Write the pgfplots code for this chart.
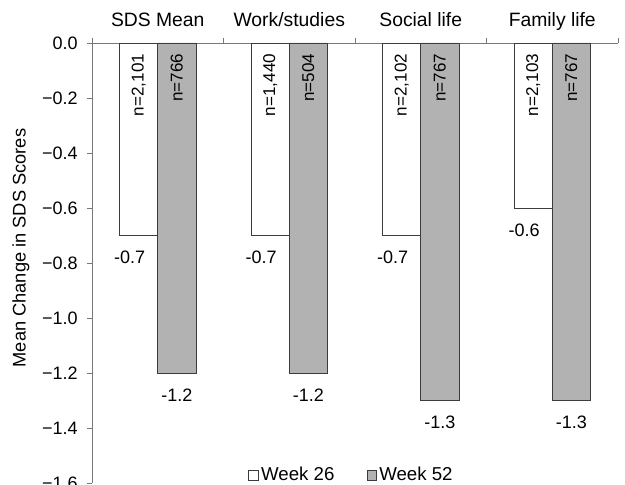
\documentclass[border=0pt]{standalone}
\usepackage{pgfplots}
\pgfplotsset{compat=1.18}
\usepackage{fontspec}
\setmainfont{Liberation Sans}
\definecolor{barGray}{RGB}{178,178,178}
\definecolor{edge}{RGB}{60,60,60}
\definecolor{axisGray}{RGB}{120,120,120}

\begin{document}
\fontsize{13.5}{16}\selectfont
\begin{tikzpicture}
\begin{axis}[
	scale only axis,
	width=394.5pt,
	height=330pt,
	ybar,
	bar width=0.29,
	xmin=-0.5, xmax=3.5,
	ymin=-1.6, ymax=0,
	axis x line=top,
	axis y line=left,
	axis line style={axisGray,-},
	every tick/.style={axisGray},
	tick align=outside,
	xtick={0,1,2,3},
	xticklabels={SDS Mean, Work/studies, Social life, Family life},
	xticklabel style={font=\fontsize{14.5}{17}\selectfont, anchor=base, yshift=8pt},
	major x tick style={draw=none},
	minor xtick={-0.5,0.5,1.5,2.5,3.5},
	major tick length=4pt,
	minor tick length=4pt,
	ytick={-1.6,-1.4,-1.2,-1.0,-0.8,-0.6,-0.4,-0.2,0},
	yticklabels={−1.6,−1.4,−1.2,−1.0,−0.8,−0.6,−0.4,−0.2,0.0},
	yticklabel style={font=\fontsize{13.5}{16}\selectfont, xshift=-2pt},
	ylabel={Mean Change in SDS Scores},
	every axis y label/.style={at={(axis description cs:-0.135,0.534)}, rotate=90, anchor=center,
		font=\fontsize{13.7}{16}\selectfont},
	/pgf/number format/assume math mode=true,
	/pgf/number format/fixed,
	/pgf/number format/fixed zerofill,
	/pgf/number format/precision=1,
	legend style={at={(0.494,0.018)}, anchor=center, draw=none, fill=none,
		font=\fontsize{14}{16}\selectfont,
		legend columns=-1, /tikz/every even column/.append style={column sep=22pt}},
	legend image code/.code={\draw[#1,draw=edge] (0pt,-3.6pt) rectangle (7.2pt,3.6pt);},
]
% Week 26
\addplot[fill=white, draw=edge, bar shift=-0.145,
	nodes near coords,
	every node near coord/.append style={anchor=center, yshift=-16.5pt, xshift=-6.75pt, text=black},
] coordinates {(0,-0.7) (1,-0.7) (2,-0.7) (3,-0.6)};
% Week 52
\addplot[fill=barGray, draw=edge, bar shift=0.145,
	nodes near coords,
	every node near coord/.append style={anchor=center, yshift=-16.5pt, text=black},
] coordinates {(0,-1.2) (1,-1.2) (2,-1.3) (3,-1.3)};
% sample sizes
\addplot[draw=none, fill=none, bar shift=-0.145, forget plot,
	point meta=explicit symbolic, nodes near coords,
	every node near coord/.append style={anchor=east, rotate=90, inner xsep=8pt, text=black,
		font=\fontsize{12.8}{15}\selectfont},
] coordinates {(0,0) [n=2{,}101] (1,0) [n=1{,}440] (2,0) [n=2{,}102] (3,0) [n=2{,}103]};
\addplot[draw=none, fill=none, bar shift=0.145, forget plot,
	point meta=explicit symbolic, nodes near coords,
	every node near coord/.append style={anchor=east, rotate=90, inner xsep=8pt, text=black,
		font=\fontsize{12.8}{15}\selectfont},
] coordinates {(0,0) [n=766] (1,0) [n=504] (2,0) [n=767] (3,0) [n=767]};
\legend{Week 26, Week 52}
\end{axis}
\pgfresetboundingbox
\path[use as bounding box] ([shift={(-69pt,-0.75pt)}]current axis.south west) rectangle ([shift={(5.25pt,32.25pt)}]current axis.north east);
\end{tikzpicture}
\end{document}
